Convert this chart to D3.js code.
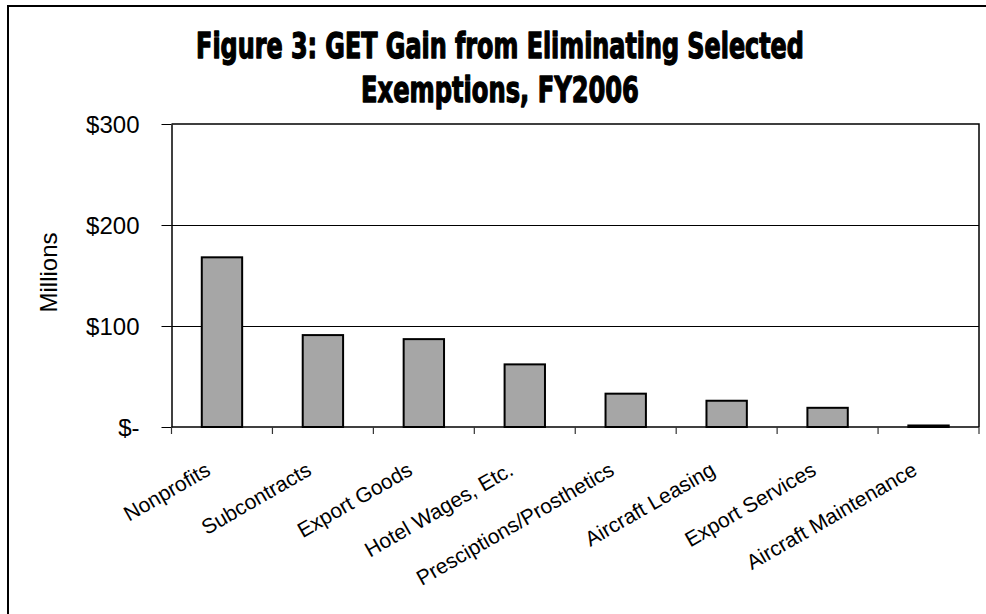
<!DOCTYPE html>
<html>
<head>
<meta charset="utf-8">
<script src="https://cdn.jsdelivr.net/npm/d3@7"></script>
<style>
  html, body { margin: 0; padding: 0; background: #fff; }
  svg { display: block; }
  .tick-label { font-family: "Liberation Sans", Arial, sans-serif; fill: #000; }
</style>
</head>
<body>
<svg id="chart" width="986" height="614"></svg>
<script>
// GET revenue gain by exemption, FY2006 (millions of dollars)
const categories = [
  "Nonprofits",
  "Subcontracts",
  "Export Goods",
  "Hotel Wages, Etc.",
  "Presciptions/Prosthetics",
  "Aircraft Leasing",
  "Export Services",
  "Aircraft Maintenance"
];
const gainMillions = [168, 91, 87, 62, 33, 26, 19, 1.5];

const yTickValues = [0, 100, 200, 300];
const yTickLabels = ["$-", "$100", "$200", "$300"];

const titleLines = [
  "Figure 3: GET Gain from Eliminating Selected",
  "Exemptions, FY2006"
];
const yAxisTitle = "Millions";

const svg = d3.select("#chart");

// Outer chart frame (runs off the right and bottom edges)
svg.append("rect")
  .attr("x", 8).attr("y", 6)
  .attr("width", 1100).attr("height", 700)
  .attr("fill", "#fff")
  .attr("stroke", "#000")
  .attr("stroke-width", 2);

const plot = { left: 171.5, right: 979, top: 124, bottom: 427 };

const x = d3.scaleBand()
  .domain(categories)
  .range([plot.left, plot.right])
  .paddingInner(0.6)
  .paddingOuter(0.3);

const y = d3.scaleLinear()
  .domain([0, 300])
  .range([plot.bottom, plot.top]);

// Title: heavy condensed face, each line squeezed horizontally to its width
const titleFont = '"DejaVu Sans Condensed", "DejaVu Sans", sans-serif';
const titleSpec = [
  { text: titleLines[0], baseline: 58, width: 608 },
  { text: titleLines[1], baseline: 102, width: 278 }
];
const titleG = svg.append("g");
titleG.selectAll("text")
  .data(titleSpec)
  .join("text")
  .attr("text-anchor", "middle")
  .attr("font-family", titleFont)
  .attr("font-weight", "bold")
  .attr("font-size", 36)
  .attr("fill", "#000")
  .attr("stroke", "#000")
  .attr("stroke-width", 1.3)
  .attr("stroke-linejoin", "round")
  .text(d => d.text)
  .each(function (d) {
    const natural = this.getComputedTextLength();
    d3.select(this).attr("transform",
      `translate(500,${d.baseline}) scale(${d.width / natural},1)`);
  });

// Horizontal gridlines
svg.append("g")
  .selectAll("line")
  .data(yTickValues.filter(v => v > 0 && v < 300))
  .join("line")
  .attr("x1", plot.left).attr("x2", plot.right)
  .attr("y1", d => Math.round(y(d)) + 0.5)
  .attr("y2", d => Math.round(y(d)) + 0.5)
  .attr("stroke", "#000")
  .attr("stroke-width", 1);

// Plot area border (top and right)
svg.append("path")
  .attr("d", `M${plot.left},${plot.top}H${plot.right}V${plot.bottom}`)
  .attr("fill", "none")
  .attr("stroke", "#000")
  .attr("stroke-width", 1.5);

// Bars
svg.append("g")
  .selectAll("rect")
  .data(categories.map((c, i) => ({ c, v: gainMillions[i] })))
  .join("rect")
  .attr("x", d => x(d.c))
  .attr("y", d => y(d.v))
  .attr("width", x.bandwidth())
  .attr("height", d => y(0) - y(d.v))
  .attr("fill", "#a6a6a6")
  .attr("stroke", "#000")
  .attr("stroke-width", 2);

// Y axis
const yAxis = d3.axisLeft(y)
  .tickValues(yTickValues)
  .tickFormat((d, i) => yTickLabels[i])
  .tickSize(10)
  .tickPadding(22)
  .tickSizeOuter(0);
const yG = svg.append("g")
  .attr("transform", `translate(${plot.left},0)`)
  .call(yAxis);
yG.select(".domain").attr("stroke", "#000").attr("stroke-width", 1.5);
yG.selectAll(".tick line").attr("stroke", "#000");
yG.selectAll(".tick text")
  .attr("class", "tick-label")
  .attr("font-size", 24)
  .attr("dy", "0.35em");

// X axis: baseline plus ticks at category boundaries
const step = x.step();
const boundaries = categories.map(c => x(c) + x.bandwidth() / 2 - step / 2)
  .concat([x(categories[categories.length - 1]) + x.bandwidth() / 2 + step / 2]);
svg.append("line")
  .attr("x1", plot.left).attr("x2", plot.right)
  .attr("y1", plot.bottom).attr("y2", plot.bottom)
  .attr("stroke", "#000")
  .attr("stroke-width", 1.5);
svg.append("g")
  .selectAll("line")
  .data(boundaries)
  .join("line")
  .attr("x1", d => d).attr("x2", d => d)
  .attr("y1", plot.bottom).attr("y2", plot.bottom + 7)
  .attr("stroke", "#333")
  .attr("stroke-width", 1.2);

// Rotated category labels
svg.append("g")
  .selectAll("text")
  .data(categories)
  .join("text")
  .attr("class", "tick-label")
  .attr("font-size", 21)
  .attr("text-anchor", "end")
  .attr("transform", c => `translate(${x(c) + x.bandwidth() / 2 - 10},${plot.bottom + 47}) rotate(-30)`)
  .text(c => c);

// Y axis title
svg.append("text")
  .attr("class", "tick-label")
  .attr("font-size", 24)
  .attr("text-anchor", "middle")
  .attr("transform", `translate(57,${(plot.top + plot.bottom) / 2 - 3}) rotate(-90)`)
  .text(yAxisTitle);
</script>
</body>
</html>
